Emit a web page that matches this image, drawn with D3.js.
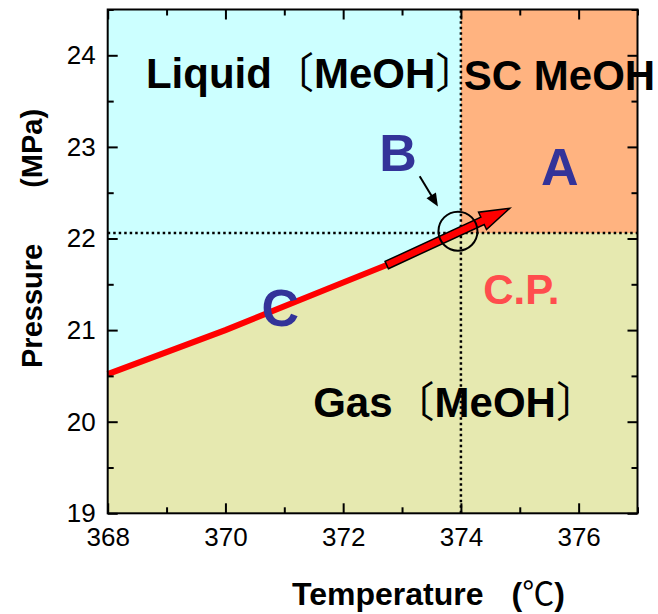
<!DOCTYPE html>
<html><head><meta charset="utf-8">
<script src="https://cdn.jsdelivr.net/npm/d3@7"></script>
<style>
body{margin:0;background:#fff}
svg{display:block}
text{font-family:"Liberation Sans",Arial,sans-serif}
</style>
</head><body>
<svg id="chart" width="658" height="614"></svg>
<script>
// Axis ticks
const tempTicks = [368, 370, 372, 374, 376];
const tempMinorTicks = [369, 371, 373, 375, 377];
const pressTicks = [19, 20, 21, 22, 23, 24];
const pressMinorTicks = [19.5, 20.5, 21.5, 22.5, 23.5, 24.5];

// Vapour-pressure curve, [temperature °C, pressure MPa]
const satCurve = [[368, 20.52], [370, 21.0], [372, 21.52], [374, 22.06]];
// Critical point
const critT = 374;
const critP = 22.06;
// Process path: red arrow from tail to tip
const processArrow = [[372.74, 21.71], [374.83, 22.33]];
// Small pointer arrow toward the critical point
const pointerArrow = [[373.30, 22.68], [373.61, 22.35]];
const markerCircle = [373.95, 22.08];

// Region and point labels (anchor in data units)
const labelText = ["Liquid", "SC MeOH", "Gas", "C.P.", "A", "B", "C"];
const labelT    = [368.65, 374.05, 371.49, 374.38, 375.68, 372.93, 370.93];
const labelP    = [23.64, 23.62, 20.05, 21.29, 22.58, 22.74, 21.04];

const svg = d3.select("#chart");
const x = d3.scaleLinear().domain([368, 377]).range([107.7, 637.5]);
const y = d3.scaleLinear().domain([19, 24.5]).range([513.3, 9.5]);
const pt = d => [x(d[0]), y(d[1])];

// Phase regions
const gasPoly = [[368, 19], ...satCurve, [377, critP], [377, 19]];
const liqPoly = [[368, 24.5], [critT, 24.5], [critT, critP], ...satCurve.slice().reverse()];
const scPoly = [[critT, critP], [critT, 24.5], [377, 24.5], [377, critP]];
const poly = pts => "M" + pts.map(pt).map(p => p.join(",")).join("L") + "Z";

svg.append("path").attr("d", poly(gasPoly)).attr("fill", "#e6e9b0");
svg.append("path").attr("d", poly(liqPoly)).attr("fill", "#ccffff");
svg.append("path").attr("d", poly(scPoly)).attr("fill", "#ffb380");

// Dotted critical lines
svg.append("line")
  .attr("x1", x(368)).attr("x2", x(377)).attr("y1", y(critP)).attr("y2", y(critP))
  .attr("stroke", "#000").attr("stroke-width", 2.5).attr("stroke-dasharray", "2.5,3");
svg.append("line")
  .attr("x1", x(critT)).attr("x2", x(critT)).attr("y1", y(19)).attr("y2", y(24.5))
  .attr("stroke", "#000").attr("stroke-width", 2.5).attr("stroke-dasharray", "2.5,3");

// Red curve up to the arrow tail
const tail = processArrow[0];
const redPts = satCurve.filter(d => d[0] < tail[0]).concat([tail]);
svg.append("path")
  .attr("d", d3.line().x(d => x(d[0])).y(d => y(d[1]))(redPts))
  .attr("fill", "none").attr("stroke", "#ff0000").attr("stroke-width", 6);

// Block arrow
(function () {
  const [x0, y0] = pt(processArrow[0]);
  const [x1, y1] = pt(processArrow[1]);
  const len = Math.hypot(x1 - x0, y1 - y0);
  const ux = (x1 - x0) / len, uy = (y1 - y0) / len;
  const nx = -uy, ny = ux;
  const sw = 4, hw = 9.5, hl = 30;
  const bx = x1 - ux * hl, by = y1 - uy * hl;
  const P = [
    [x0 + nx * sw, y0 + ny * sw],
    [bx + nx * sw, by + ny * sw],
    [bx + nx * hw, by + ny * hw],
    [x1, y1],
    [bx - nx * hw, by - ny * hw],
    [bx - nx * sw, by - ny * sw],
    [x0 - nx * sw, y0 - ny * sw]
  ];
  svg.append("path").attr("d", "M" + P.map(p => p.join(",")).join("L") + "Z")
    .attr("fill", "#ff0000").attr("stroke", "#000").attr("stroke-width", 1.5)
    .attr("stroke-linejoin", "miter");
})();

// Circle at the critical point
svg.append("circle")
  .attr("cx", x(markerCircle[0])).attr("cy", y(markerCircle[1])).attr("r", 19.5)
  .attr("fill", "none").attr("stroke", "#000").attr("stroke-width", 2);

// Pointer arrow
(function () {
  const [x0, y0] = pt(pointerArrow[0]);
  const [x1, y1] = pt(pointerArrow[1]);
  const len = Math.hypot(x1 - x0, y1 - y0);
  const ux = (x1 - x0) / len, uy = (y1 - y0) / len;
  const nx = -uy, ny = ux;
  const hl = 13, hw = 5.5;
  const bx = x1 - ux * hl, by = y1 - uy * hl;
  svg.append("line").attr("x1", x0).attr("y1", y0).attr("x2", bx + ux * 2).attr("y2", by + uy * 2)
    .attr("stroke", "#000").attr("stroke-width", 2);
  svg.append("path")
    .attr("d", `M${x1},${y1}L${bx + nx * hw},${by + ny * hw}L${bx - nx * hw},${by - ny * hw}Z`)
    .attr("fill", "#000");
})();

// Axes with inward ticks
const tickStyle = g => {
  g.select(".domain").remove();
  g.selectAll(".tick line").attr("stroke", "#000").attr("stroke-width", 2);
  g.selectAll("text").attr("font-size", 26).attr("fill", "#000")
    .attr("font-family", "'Liberation Sans',Arial,sans-serif");
};
svg.append("g").attr("transform", `translate(0,${y(19)})`)
  .call(d3.axisBottom(x).tickValues(tempTicks).tickFormat(d3.format("d")).tickSize(-10).tickPadding(14))
  .call(tickStyle);
svg.append("g").attr("transform", `translate(0,${y(19)})`)
  .call(d3.axisBottom(x).tickValues(tempMinorTicks).tickFormat("").tickSize(-6)).call(tickStyle);
svg.append("g").attr("transform", `translate(0,${y(24.5)})`)
  .call(d3.axisTop(x).tickValues(tempTicks).tickFormat("").tickSize(-10)).call(tickStyle);
svg.append("g").attr("transform", `translate(0,${y(24.5)})`)
  .call(d3.axisTop(x).tickValues(tempMinorTicks).tickFormat("").tickSize(-6)).call(tickStyle);
svg.append("g").attr("transform", `translate(${x(368)},0)`)
  .call(d3.axisLeft(y).tickValues(pressTicks).tickFormat(d3.format("d")).tickSize(-10).tickPadding(12))
  .call(tickStyle);
svg.append("g").attr("transform", `translate(${x(368)},0)`)
  .call(d3.axisLeft(y).tickValues(pressMinorTicks).tickFormat("").tickSize(-6)).call(tickStyle);
svg.append("g").attr("transform", `translate(${x(377)},0)`)
  .call(d3.axisRight(y).tickValues(pressTicks).tickFormat("").tickSize(-10)).call(tickStyle);
svg.append("g").attr("transform", `translate(${x(377)},0)`)
  .call(d3.axisRight(y).tickValues(pressMinorTicks).tickFormat("").tickSize(-6)).call(tickStyle);

// Frame
svg.append("rect")
  .attr("x", x(368)).attr("y", y(24.5))
  .attr("width", x(377) - x(368)).attr("height", y(19) - y(24.5))
  .attr("fill", "none").attr("stroke", "#000").attr("stroke-width", 2);

// Region labels
const cjk = "'Noto Sans CJK JP',sans-serif";
function phaseLabel(i, name) {
  const t = svg.append("text").attr("x", x(labelT[i])).attr("y", y(labelP[i]))
    .attr("font-size", 42).attr("font-weight", "bold").attr("fill", "#000");
  t.append("tspan").text(name);
  t.append("tspan").text("〔").attr("font-family", cjk).attr("font-weight", 400);
  t.append("tspan").text("MeOH");
  // closing bracket sits in the left half of its em box; trim the empty right half
  t.append("tspan").text("〕").attr("font-family", cjk).attr("font-weight", 400)
    .attr("letter-spacing", "-22px");
}
phaseLabel(0, labelText[0]);
phaseLabel(2, labelText[2]);
svg.append("text").attr("x", x(labelT[1])).attr("y", y(labelP[1]))
  .attr("font-size", 42).attr("font-weight", "bold").attr("fill", "#000").text(labelText[1]);
svg.append("text").attr("x", x(labelT[3])).attr("y", y(labelP[3]))
  .attr("font-size", 42).attr("font-weight", "bold").attr("fill", "#ff4d4d").text(labelText[3]);
[4, 5, 6].forEach(i => {
  svg.append("text").attr("x", x(labelT[i])).attr("y", y(labelP[i]))
    .attr("text-anchor", "middle").attr("font-size", 52).attr("font-weight", "bold")
    .attr("fill", "#333399").text(labelText[i]);
});

// Axis titles
const xt = svg.append("text").attr("x", 292).attr("y", 605)
  .attr("font-size", 32).attr("font-weight", "bold").attr("fill", "#000");
xt.append("tspan").text("Temperature");
xt.append("tspan").attr("dx", 28).text("(");
xt.append("tspan").text("℃").attr("font-family", cjk).attr("font-weight", 400);
xt.append("tspan").text(")");

const yt = svg.append("text").attr("transform", "translate(42,368) rotate(-90)")
  .attr("font-size", 29).attr("font-weight", "bold").attr("fill", "#000");
yt.append("tspan").text("Pressure");
yt.append("tspan").attr("dx", 56).text("(MPa)");
</script>
</body></html>
